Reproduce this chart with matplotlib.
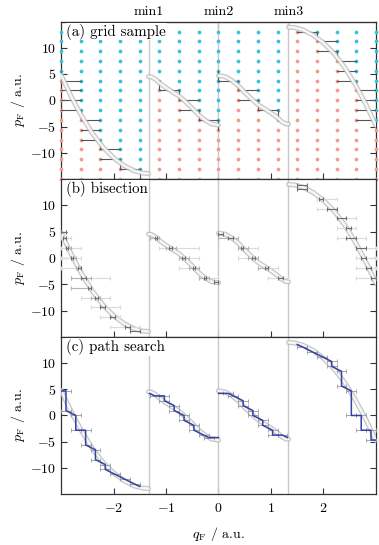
import matplotlib
matplotlib.use("Agg")
import matplotlib.pyplot as plt
import numpy as np

plt.rcParams['font.family'] = 'cmr10'
plt.rcParams['mathtext.fontset'] = 'cm'
plt.rcParams['axes.formatter.use_mathtext'] = True
plt.rcParams['font.size'] = 10

# sampling grid of panel (a)
q_grid = [-3.0, -2.625, -2.25, -1.875, -1.5, -1.125, -0.75, -0.375, 0.0,
          0.375, 0.75, 1.125, 1.5, 1.875, 2.25, 2.625, 3.0]
p_grid = [-14.93, -13.06, -11.2, -9.33, -7.47, -5.6, -3.73, -1.87, 0.0,
          1.87, 3.73, 5.6, 7.47, 9.33, 11.2, 13.06]

# index of the lowest blue row in each column
first_blue = [11, 7, 4, 2, 1, 10, 9, 7, 6, 10, 8, 7, 16, 15, 13, 10, 6]

# minima
q_min = [-1.333, 0.0, 1.333]
min_labels = ['min1', 'min2', 'min3']

# branches of p_F(q_F)
seg1_q = [-3.0, -2.8, -2.6, -2.4, -2.2, -2.0, -1.8, -1.6, -1.45, -1.333]
seg1_p = [4.8, 0.6, -3.1, -6.3, -8.9, -10.9, -12.4, -13.4, -13.8, -13.9]
seg2_q = [-1.333, -1.28, -1.2, -1.125, -1.0, -0.875, -0.75, -0.625, -0.5, -0.375, -0.25, -0.125, 0.0]
seg2_p = [4.5, 4.45, 4.0, 3.3, 2.4, 1.6, 0.8, -0.3, -1.5, -2.8, -3.8, -4.5, -4.7]
seg3_q = [0.0, 0.125, 0.25, 0.375, 0.5, 0.625, 0.75, 0.875, 1.0, 1.125, 1.2, 1.28, 1.333]
seg3_p = [4.7, 4.5, 3.8, 2.8, 1.5, 0.3, -0.8, -1.6, -2.4, -3.3, -4.0, -4.45, -4.5]
seg4_q = [1.333, 1.45, 1.6, 1.8, 2.0, 2.2, 2.4, 2.6, 2.8, 3.0]
seg4_p = [13.9, 13.8, 13.4, 12.4, 10.9, 8.9, 6.3, 3.1, -0.6, -4.8]

branches = [(seg1_q, seg1_p), (seg2_q, seg2_p), (seg3_q, seg3_p), (seg4_q, seg4_p)]
branch_cols = [[0, 1, 2, 3, 4], [5, 6, 7, 8], [8, 9, 10, 11], [12, 13, 14, 15, 16]]
branch_blue = [[11, 7, 4, 2, 1], [10, 9, 7, 6], [11, 10, 8, 7], [16, 15, 13, 10, 6]]

# (b) bisection intervals: p, q_lo, q_hi, level (0 coarse .. 2 fine)
bis_p = [4.97, 3.73, 3.73, 1.87, 1.87, 1.87, 0.0, 0.0, 0.0, -1.87, -1.87, -1.87,
         -3.73, -3.73, -3.73, -5.6, -5.6, -7.47, -7.47, -7.47, -9.33, -9.33,
         -11.2, -11.2, -13.07, -13.07, -13.8,
         3.73, 3.73, 1.87, 1.87, 1.87, 0.0, 0.0, 0.0, -1.87, -1.87, -1.87,
         -3.73, -3.73, -3.73, -4.6,
         4.6, 3.73, 3.73, 1.87, 1.87, 1.87, 0.0, 0.0, 0.0, -1.87, -1.87, -1.87,
         -3.73, -3.73,
         13.8, 13.06, 11.2, 11.2, 9.33, 9.33, 7.47, 7.47, 5.6, 5.6, 3.73, 3.73,
         1.87, 1.87, 0.0, 0.0, -1.87, -1.87, -3.73, -3.73]
bis_lo = [-3.0, -3.0, -2.953, -3.0, -2.906, -2.906, -3.0, -2.8125, -2.8125, -3.0, -2.719, -2.672,
          -2.8125, -2.8125, -2.625, -2.8125, -2.484, -2.625, -2.4375, -2.344, -2.4375, -2.25,
          -2.25, -2.0625, -2.0625, -1.781, -1.6875,
          -1.3, -1.21, -1.125, -1.0, -0.94, -0.75, -0.75, -0.69, -0.75, -0.5625, -0.49,
          -0.375, -0.375, -0.28, -0.094,
          0.0, 0.0, 0.1875, 0.375, 0.375, 0.42, 0.375, 0.5625, 0.64, 0.75, 0.75, 0.89,
          0.94, 1.125,
          1.5, 1.5, 1.875, 1.92, 1.875, 2.0625, 2.25, 2.25, 2.25, 2.4375, 2.25, 2.4375,
          2.625, 2.625, 2.625, 2.719, 2.625, 2.8125, 2.625, 2.906]
bis_hi = [-2.906, -2.8125, -2.906, -2.625, -2.8125, -2.86, -2.625, -2.719, -2.766, -2.625, -2.625, -2.625,
          -2.0625, -2.4375, -2.531, -2.4375, -2.4375, -2.0625, -2.25, -2.297, -1.875, -2.156,
          -1.875, -1.969, -1.5, -1.6875, -1.5,
          -1.125, -1.165, -0.375, -0.8125, -0.89, -0.375, -0.5625, -0.64, -0.375, -0.375, -0.44,
          0.0, -0.1875, -0.24, 0.0,
          0.094, 0.375, 0.28, 0.75, 0.5625, 0.47, 0.75, 0.75, 0.69, 1.125, 0.94, 0.94,
          1.333, 1.22,
          1.6875, 1.6875, 2.25, 2.0, 2.25, 2.25, 2.625, 2.4375, 2.625, 2.531, 2.8125, 2.625,
          3.0, 2.8125, 3.0, 2.8125, 3.0, 2.906, 3.0, 3.0]
bis_lvl = [2, 0, 2, 0, 1, 2, 0, 1, 2, 0, 1, 2,
           0, 1, 2, 1, 2, 0, 1, 2, 0, 2,
           0, 2, 0, 2, 2,
           1, 2, 0, 1, 2, 0, 1, 2, 0, 1, 2,
           0, 1, 2, 2,
           2, 1, 2, 0, 1, 2, 0, 1, 2, 0, 1, 2,
           0, 2,
           2, 2, 0, 2, 0, 2, 0, 2, 0, 2, 0, 2,
           0, 2, 0, 2, 0, 2, 0, 2]
bis_colors = ['#dadada', '#b4b4b4', '#6e6e6e']

# (c) path search vertices, one list per branch
path1_q = [-3.0, -2.906, -2.906, -2.719, -2.719, -2.531, -2.531, -2.344, -2.344,
           -2.156, -2.156, -1.969, -1.781, -1.594, -1.5]
path1_p = [4.67, 4.67, 0.93, 0.0, -2.8, -2.8, -5.6, -6.53, -8.4, -9.33, -10.27,
           -11.2, -12.13, -13.07, -13.5]
path2_q = [-1.313, -1.219, -1.031, -1.031, -0.844, -0.844, -0.656, -0.656, -0.469,
           -0.469, -0.281, -0.188, 0.0]
path2_p = [4.2, 3.73, 3.73, 2.8, 1.87, 0.93, 0.0, -0.93, -1.87, -2.8, -3.73, -4.2, -4.2]
path3_q = [0.0, 0.188, 0.281, 0.469, 0.469, 0.656, 0.656, 0.844, 0.844, 1.031,
           1.031, 1.219, 1.313]
path3_p = [4.2, 4.2, 3.73, 2.8, 1.87, 0.93, 0.0, -0.93, -1.87, -2.8, -3.73, -3.73, -4.2]
path4_q = [1.5, 1.594, 1.781, 1.969, 2.156, 2.156, 2.344, 2.344, 2.531, 2.531,
           2.719, 2.719, 2.906, 2.906, 3.0]
path4_p = [13.5, 13.07, 12.13, 11.2, 10.27, 9.33, 8.4, 5.6, 4.67, 0.0, 0.0, -2.8,
           -2.8, -4.67, -4.67]
paths = [(path1_q, path1_p), (path2_q, path2_p), (path3_q, path3_p), (path4_q, path4_p)]

blue = '#35c3dc'
red = '#f59a8e'
dark = '#555555'
path_color = '#3342a8'


def draw_curve(ax):
    for q, p in branches:
        ax.plot(q, p, color='#b8b8b8', lw=3.6, solid_capstyle='round', zorder=4, alpha=0.8)
        ax.plot(q, p, color='white', lw=1.8, solid_capstyle='round', zorder=5, alpha=0.85)


def brackets(cols, fb):
    # horizontal: rows where colour flips between neighbouring columns
    hs = []
    for a, b in zip(range(len(cols) - 1), range(1, len(cols))):
        for j in range(len(p_grid)):
            if j < fb[a] and j >= fb[b]:
                hs.append((q_grid[cols[a]], q_grid[cols[b]], p_grid[j]))
    vs = []
    for c, f in zip(cols, fb):
        if 1 <= f < len(p_grid):
            vs.append((q_grid[c], p_grid[f - 1], p_grid[f]))
    return hs, vs


fig = plt.figure(figsize=(3.79, 5.45), dpi=100)
axes = [fig.add_axes([0.161, 0.6716, 0.831, 0.2886]),
        fig.add_axes([0.161, 0.3817, 0.831, 0.2899]),
        fig.add_axes([0.161, 0.0936, 0.831, 0.2881])]

for ax in axes:
    ax.set_xlim(-3, 3)
    ax.set_ylim(-14.93, 14.93)
    ax.set_xticks([-2, -1, 0, 1, 2])
    ax.set_yticks([-10, -5, 0, 5, 10])
    ax.tick_params(direction='in', right=True, length=4, width=0.8, color='#333333')
    ax.tick_params(axis='x', pad=6)
    for s in ax.spines.values():
        s.set_color('#333333')
        s.set_linewidth(0.9)
    for qm in q_min:
        ax.axvline(qm, color='#c8c8c8', lw=1.0, zorder=2)
    ax.set_ylabel(r'$p_\mathrm{F}$ / a.u.', labelpad=2)
    draw_curve(ax)

for ax in axes[:2]:
    ax.tick_params(labelbottom=False)

# (a) grid sample
ax = axes[0]
for c, qc in enumerate(q_grid):
    for j, pj in enumerate(p_grid):
        col = blue if j >= first_blue[c] else red
        ax.plot(qc, pj, 'o', ms=2.7, mec='none', mfc=col, zorder=3, clip_on=False)
for cols, fb in zip(branch_cols, branch_blue):
    hs, vs = brackets(cols, fb)
    for q0, q1, pj in hs:
        ax.plot([q0, q1], [pj, pj], color=dark, lw=0.8, zorder=3)
    for qc, p0, p1 in vs:
        ax.plot([qc, qc], [p0, p1], color=dark, lw=0.8, zorder=3)
top = ax.secondary_xaxis('top')
top.set_xticks(q_min)
top.set_xticklabels(min_labels)
top.tick_params(direction='in', length=4, pad=3)
ax.text(-2.9, 13.06, '(a) grid sample', va='center', ha='left', fontsize=10.8,
        bbox=dict(fc='white', ec='none', pad=0.5), zorder=7)

# (b) bisection
ax = axes[1]
for lvl in range(3):
    for p, lo, hi, lv in zip(bis_p, bis_lo, bis_hi, bis_lvl):
        if lv != lvl:
            continue
        ax.errorbar([(lo + hi) / 2], [p], xerr=[(hi - lo) / 2], fmt='none',
                    ecolor=bis_colors[lv], elinewidth=0.8, capsize=1.4,
                    capthick=0.8, zorder=6 + lvl)
ax.text(-2.9, 13.06, '(b) bisection', va='center', ha='left', fontsize=10.8,
        bbox=dict(fc='white', ec='none', pad=0.5), zorder=10)

# (c) path search
ax = axes[2]
for q, p in paths:
    ax.errorbar(q[1:-1], p[1:-1], xerr=0.094, fmt='none', ecolor='#999999',
                elinewidth=0.6, capsize=1.2, capthick=0.6, zorder=6)
    ax.plot(q, p, color=path_color, lw=1.1, zorder=7)
ax.text(-2.9, 13.06, '(c) path search', va='center', ha='left', fontsize=10.8,
        bbox=dict(fc='white', ec='none', pad=0.5), zorder=10)
ax.set_xlabel(r'$q_\mathrm{F}$ / a.u.', labelpad=7)

fig.savefig('out.png', dpi=100)
